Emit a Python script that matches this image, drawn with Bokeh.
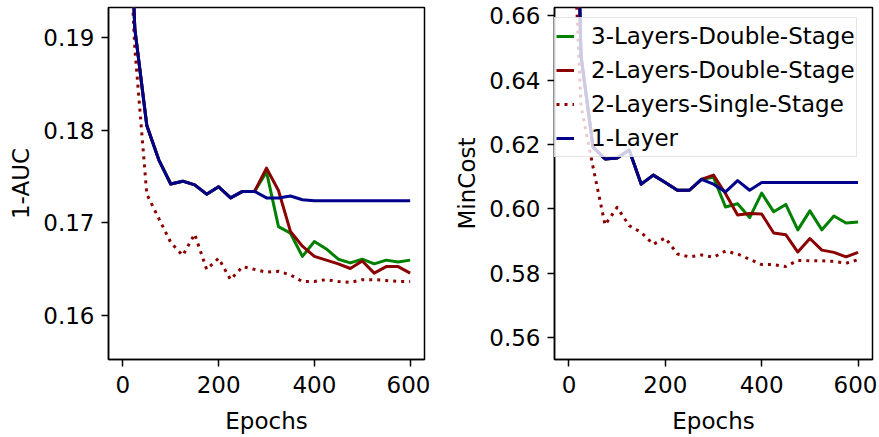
from bokeh.plotting import figure
from bokeh.layouts import row
from bokeh.models import Range1d, FixedTicker, Legend, LegendItem, PrintfTickFormatter
from bokeh.embed import file_html
from bokeh.resources import INLINE

epochs = list(range(0, 601, 25))

# ---- left panel: 1-AUC ----
auc_1layer = [0.2220, 0.1909, 0.1805, 0.1768, 0.1742, 0.1745, 0.1741, 0.1731, 0.1739,
              0.1727, 0.1734, 0.1734, 0.1727, 0.1727, 0.1729, 0.1725, 0.1724, 0.1724,
              0.1724, 0.1724, 0.1724, 0.1724, 0.1724, 0.1724, 0.1724]
auc_3l_double = [0.2220, 0.1909, 0.1805, 0.1768, 0.1742, 0.1745, 0.1741, 0.1731, 0.1739,
                 0.1727, 0.1734, 0.1734, 0.1755, 0.1696, 0.1689, 0.1664, 0.1680, 0.1672,
                 0.1661, 0.1657, 0.1661, 0.1656, 0.1660, 0.1658, 0.1660]
auc_2l_double = [0.2220, 0.1909, 0.1805, 0.1768, 0.1742, 0.1745, 0.1741, 0.1731, 0.1739,
                 0.1727, 0.1734, 0.1734, 0.1759, 0.1735, 0.1691, 0.1675, 0.1664, 0.1660,
                 0.1656, 0.1651, 0.1659, 0.1646, 0.1653, 0.1653, 0.1646]
auc_2l_single = [0.2150, 0.1888, 0.1731, 0.1705, 0.1679, 0.1665, 0.1688, 0.1650, 0.1662,
                 0.1639, 0.1653, 0.1650, 0.1647, 0.1648, 0.1644, 0.1637, 0.1637, 0.1639,
                 0.1637, 0.1636, 0.1639, 0.1639, 0.1638, 0.1637, 0.1637]

# ---- right panel: MinCost ----
cost_1layer = [0.8000, 0.6476, 0.6192, 0.6155, 0.6158, 0.6183, 0.6077, 0.6105, 0.6082,
               0.6058, 0.6058, 0.6092, 0.6077, 0.6053, 0.6088, 0.6058, 0.6082, 0.6082,
               0.6082, 0.6082, 0.6082, 0.6082, 0.6082, 0.6082, 0.6082]
cost_3l_double = [0.8000, 0.6476, 0.6192, 0.6155, 0.6158, 0.6183, 0.6077, 0.6105, 0.6082,
                  0.6058, 0.6058, 0.6092, 0.6098, 0.6006, 0.6016, 0.5973, 0.6049, 0.5991,
                  0.6014, 0.5935, 0.5994, 0.5935, 0.5978, 0.5956, 0.5959]
cost_2l_double = [0.8000, 0.6476, 0.6192, 0.6155, 0.6158, 0.6183, 0.6077, 0.6105, 0.6082,
                  0.6058, 0.6058, 0.6092, 0.6105, 0.6047, 0.5981, 0.5986, 0.5984, 0.5925,
                  0.5920, 0.5866, 0.5908, 0.5872, 0.5865, 0.5851, 0.5865]
cost_2l_single = [0.7200, 0.6320, 0.6130, 0.5950, 0.6005, 0.5948, 0.5927, 0.5890, 0.5910,
                  0.5860, 0.5851, 0.5857, 0.5850, 0.5869, 0.5860, 0.5843, 0.5827, 0.5827,
                  0.5821, 0.5840, 0.5839, 0.5839, 0.5837, 0.5831, 0.5842]

auc_ticks = [0.16, 0.17, 0.18, 0.19]
cost_ticks = [0.56, 0.58, 0.60, 0.62, 0.64, 0.66]
epoch_ticks = [0, 200, 400, 600]

labels = ["3-Layers-Double-Stage", "2-Layers-Double-Stage", "2-Layers-Single-Stage", "1-Layer"]
colors = ["#008000", "#8b0000", "#8b0000", "#00008b"]
dashes = ["solid", "solid", "3 5", "solid"]

FONT = "DejaVu Sans"
FS = "23px"


def style(p, ylabel, yticks):
    p.grid.visible = False
    p.outline_line_color = "black"
    p.outline_line_width = 1.5
    for ax in (p.xaxis[0], p.yaxis[0]):
        ax.axis_line_color = "black"
        ax.axis_line_width = 1.5
        ax.major_tick_line_color = "black"
        ax.major_tick_line_width = 1.5
        ax.major_tick_out = 7
        ax.major_tick_in = 0
        ax.minor_tick_line_color = None
        ax.major_label_text_font = FONT
        ax.major_label_text_font_size = FS
        ax.major_label_text_color = "black"
        ax.axis_label_text_font = FONT
        ax.axis_label_text_font_size = FS
        ax.axis_label_text_font_style = "normal"
        ax.axis_label_text_color = "black"
    p.xaxis.ticker = FixedTicker(ticks=epoch_ticks)
    p.yaxis.ticker = FixedTicker(ticks=yticks)
    p.yaxis.formatter = PrintfTickFormatter(format="%.2f")
    p.xaxis.axis_label = "Epochs"
    p.yaxis.axis_label = ylabel
    p.yaxis.major_label_standoff = 7
    p.xaxis.major_label_standoff = 9
    p.yaxis.axis_label_standoff = 6
    p.xaxis.axis_label_standoff = 12


def draw(p, series):
    rends = []
    for ys, c, d in zip(series, colors, dashes):
        r = p.line(epochs, ys, line_color=c, line_width=3, line_dash=d,
                   line_cap="butt", line_join="round")
        rends.append(r)
    return rends


p1 = figure(width=430, height=436, output_backend="svg", toolbar_location=None,
            x_range=Range1d(-30, 630), y_range=Range1d(0.1553, 0.1932),
            min_border_left=108, min_border_right=6, min_border_top=7, min_border_bottom=68)
style(p1, "1-AUC", auc_ticks)
draw(p1, [auc_3l_double, auc_2l_double, auc_2l_single, auc_1layer])

p2 = figure(width=447, height=436, output_backend="svg", toolbar_location=None,
            x_range=Range1d(-30, 630), y_range=Range1d(0.5532, 0.6626),
            min_border_left=124, min_border_right=5, min_border_top=7, min_border_bottom=68)
style(p2, "MinCost", cost_ticks)
r2 = draw(p2, [cost_3l_double, cost_2l_double, cost_2l_single, cost_1layer])

legend = Legend(items=[LegendItem(label=l, renderers=[r]) for l, r in zip(labels, r2)],
                location=(0, 202))
legend.label_text_font = FONT
legend.label_text_font_size = FS
legend.label_text_color = "black"
legend.glyph_width = 18
legend.glyph_height = 34
legend.label_height = 34
legend.label_standoff = 17
legend.spacing = 0
legend.padding = 1
legend.margin = 0
legend.background_fill_color = "white"
legend.background_fill_alpha = 0.8
legend.border_line_color = "#cccccc"
legend.border_line_width = 1.5
p2.add_layout(legend, "center")

layout = row(p1, p2)
open("out.html", "w").write(file_html(layout, INLINE))
